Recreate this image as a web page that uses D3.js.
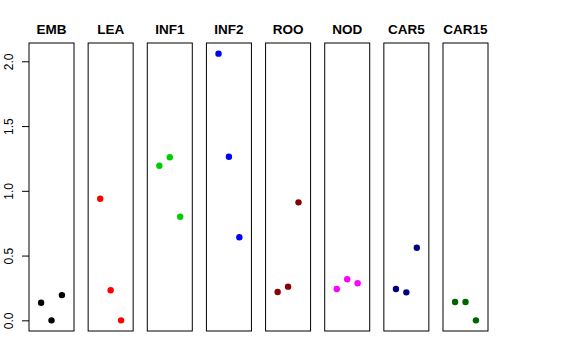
<!DOCTYPE html>
<html>
<head>
<meta charset="utf-8">
<script src="https://cdn.jsdelivr.net/npm/d3@7"></script>
<style>
html,body{margin:0;padding:0;background:#fff;}
svg{display:block;}
text{font-family:"Liberation Sans",Arial,Helvetica,sans-serif;}
</style>
</head>
<body>
<svg id="chart" width="576" height="360"></svg>
<script>
const categories = ["EMB","LEA","INF1","INF2","ROO","NOD","CAR5","CAR15"];
const values = [
  [0.136, 0.000, 0.195],
  [0.939, 0.232, 0.000],
  [1.194, 1.259, 0.800],
  [2.059, 1.263, 0.641],
  [0.219, 0.260, 0.911],
  [0.242, 0.317, 0.286],
  [0.242, 0.216, 0.561],
  [0.141, 0.141, 0.000]
];
const colors = ["#000000","#FF0000","#00CD00","#0000FF","#8B0000","#FF00FF","#000080","#006400"];
const yTicks = [0, 0.5, 1.0, 1.5, 2.0];
const yTickLabels = ["0.0","0.5","1.0","1.5","2.0"];

const svg = d3.select("#chart");
const panelTop = 43, panelBottom = 331;

const ymax = d3.max(values.flat());
const pad = 0.04 * ymax;
const y = d3.scaleLinear().domain([0 - pad, ymax + pad]).range([panelBottom, panelTop]);

const band = d3.scaleBand().domain(categories).range([29, 488]).paddingInner(0.239).paddingOuter(0);
const bw = band.bandwidth();
const xin = d3.scaleLinear().domain([1 - 1.16, 3 + 1.16]).range([0, bw]);

// y axis
const yAxis = d3.axisLeft(y).tickValues(yTicks).tickFormat((d,i)=>yTickLabels[i]).tickSize(7).tickPadding(8);
const ag = svg.append("g").attr("transform", `translate(${band(categories[0])},0)`).call(yAxis);
ag.select(".domain").remove();
ag.selectAll(".tick line").attr("stroke","#000");
ag.selectAll(".tick text")
  .attr("font-size", 12)
  .attr("fill","#000")
  .attr("transform","rotate(-90)")
  .attr("x", 0)
  .attr("y", -16)
  .attr("dy", 0)
  .attr("text-anchor","middle");

categories.forEach((cat, i) => {
  const g = svg.append("g").attr("transform", `translate(${band(cat)},0)`);
  g.append("rect")
    .attr("x", 0).attr("y", panelTop)
    .attr("width", bw).attr("height", panelBottom - panelTop)
    .attr("fill","none").attr("stroke","#000").attr("stroke-width",1);
  g.append("text")
    .attr("x", bw/2).attr("y", 34)
    .attr("text-anchor","middle")
    .attr("font-size", 13.5).attr("font-weight","bold")
    .text(cat);
  g.selectAll("circle").data(values[i]).enter().append("circle")
    .attr("cx", (d,j) => xin(j+1))
    .attr("cy", d => y(d))
    .attr("r", 3.2)
    .attr("fill", colors[i]);
});
</script>
</body>
</html>
